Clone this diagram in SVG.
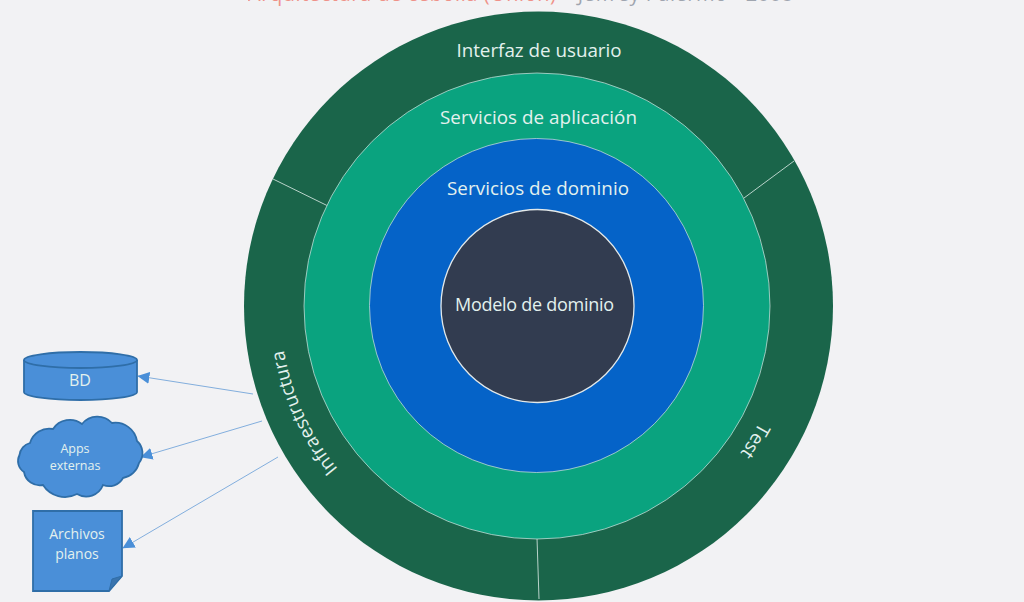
<svg xmlns="http://www.w3.org/2000/svg" width="1024" height="602" viewBox="0 0 1024 602">
<style>
text{font-family:"Open Sans","Noto Sans","Liberation Sans",sans-serif;fill:#e3f1ee}
.ring{stroke:#d5e3df;stroke-width:1;stroke-opacity:.7}
.lbl{font-size:18.800px;text-anchor:middle}
.sm{font-size:12.500px;text-anchor:middle}
.shape{fill:#4a8fd8;stroke:#2f6ea8;stroke-width:1.800}
.arrow{fill:none;stroke:#82aedd;stroke-width:1;marker-end:url(#h)}
.div{stroke:#b9d3ca;stroke-width:1}
</style>
<defs>
<marker id="h" viewBox="0 0 10 10" refX="9.500" refY="5" markerWidth="12" markerHeight="12" markerUnits="userSpaceOnUse" orient="auto"><path d="M0 0L10 5L0 10z" fill="#4a8fd8"/></marker>
<path id="pInfra" d="M388.100 516A258 258 0 0 1 281.200 281.300"/>
<path id="pTest" d="M782.600 357.600A250 250 0 0 1 692.200 502.800"/>
</defs>
<rect width="1024" height="602" fill="#f2f2f4"/>
<g id="title"><text x="248" y="0.500" font-size="20" textLength="308" style="fill:#ee6a5c" opacity=".7">Arquitectura de cebolla (Onion)</text><text x="565" y="0.500" font-size="20" textLength="228" style="fill:#5d6878" opacity=".55">- Jeffrey Palermo - 2008</text></g>
<g id="connectors">
<path class="arrow" d="M253 394L138 376"/>
<path class="arrow" d="M262 421L141 457"/>
<path class="arrow" d="M278 457L123 548"/>
</g>
<g id="outer-ring"><circle cx="538.500" cy="306" r="294.500" fill="#1a654a"/>
<text class="lbl" x="539" y="57">Interfaz de usuario</text>
<text class="lbl"><textPath href="#pInfra" startOffset="50%">Infraestructura</textPath></text>
<text class="lbl"><textPath href="#pTest" startOffset="50%">Test</textPath></text>
<path class="div" d="M328 206L273 179M744 198L794 161M537 538L539 599"/></g>
<g id="servicios-aplicacion"><circle class="ring" cx="537" cy="306" r="233" fill="#0aa37f"/>
<text class="lbl" x="538.500" y="124" textLength="197">Servicios de aplicación</text></g>
<g id="servicios-dominio"><circle class="ring" cx="536.500" cy="305.500" r="167" fill="#0563c8"/>
<text class="lbl" x="538" y="195" textLength="182">Servicios de dominio</text></g>
<g id="modelo-dominio"><circle cx="537.500" cy="306" r="96.500" fill="#323c50" stroke="#e3e9ea" stroke-width="1.300"/>
<text class="lbl" x="534.500" y="311" style="font-size:18px" textLength="159">Modelo de dominio</text></g>
<g id="bd"><path class="shape" d="M24 360V392A56.500 8 0 0 0 137 392V360"/><ellipse class="shape" cx="80.500" cy="360" rx="56.500" ry="8"/>
<text x="80" y="386" font-size="16" text-anchor="middle">BD</text></g>
<g id="apps-externas"><path class="shape" d="M30 443A20 20 0 0 1 53 429A20 20 0 0 1 82 424A20 20 0 0 1 112 423A22 22 0 0 1 137 441A16 16 0 0 1 139 463A20 20 0 0 1 123 478A16 16 0 0 1 103 485A18 18 0 0 1 77 494A26 26 0 0 1 43 485A16 16 0 0 1 24 472A13 13 0 0 1 19.500 455A14 14 0 0 1 30 443z"/>
<text class="sm" x="75" y="453">Apps</text><text class="sm" x="75" y="470">externas</text></g>
<g id="archivos-planos"><path class="shape" d="M33 511H122V576L109 591H33z"/><path d="M109 591L112 579L122 576z" fill="#3a74ae" stroke="#2f6ea8"/>
<text class="sm" x="77" y="539" style="font-size:14px">Archivos</text><text class="sm" x="77" y="559" style="font-size:14px">planos</text></g>
</svg>
